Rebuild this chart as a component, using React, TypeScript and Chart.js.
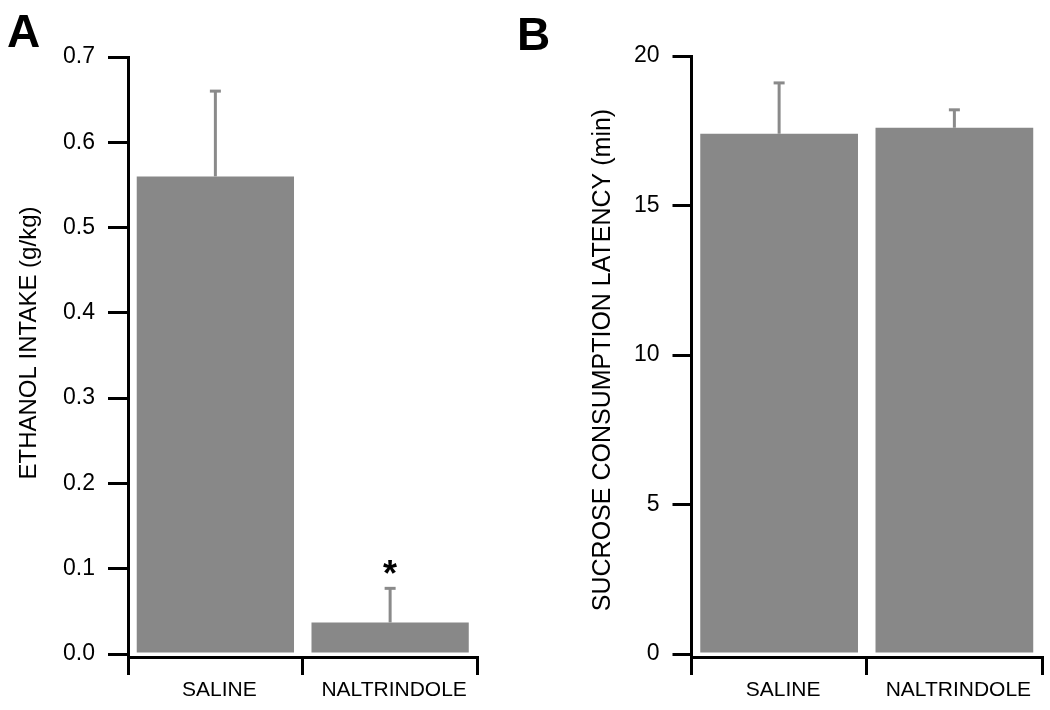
import React, { useEffect, useRef } from "react";
import { Chart, registerables } from "chart.js";

Chart.register(...registerables);

// ---- data ----
const categories = ["SALINE", "NALTRINDOLE"];

const ethanolMeans = [0.56, 0.037];
const ethanolSem = [0.1, 0.04];
const ethanolMarks = ["", "*"];
const ethanolTicks = [0, 0.1, 0.2, 0.3, 0.4, 0.5, 0.6, 0.7];

const latencyMeans = [17.4, 17.6];
const latencySem = [1.7, 0.6];
const latencyMarks = ["", ""];
const latencyTicks = [0, 5, 10, 15, 20];

const FONT = "'Liberation Sans', Arial, Helvetica, sans-serif";
const BAR_COLOR = "#888888";
const ERR_COLOR = "#8a8a8a";

type PanelCfg = {
  canvasLeft: number;
  canvasWidth: number;
  chartLeft: number;
  chartRight: number;
  chartTop: number;
  axisBottom: number;
  yMin: number;
  yMax: number;
  ticks: number[];
  decimals: number;
  tickLength: number;
  title: string;
  titleSize: number;
  titleX: number;
  titleY: number;
  letter: string;
  letterX: number;
  letterY: number;
  means: number[];
  sem: number[];
  marks: string[];
};

const errorBarPlugin = {
  id: "errorBars",
  afterDatasetsDraw(chart: any, _args: any, opts: any) {
    const meta = chart.getDatasetMeta(0);
    const y = chart.scales.y;
    const ctx = chart.ctx as CanvasRenderingContext2D;
    ctx.save();
    ctx.strokeStyle = ERR_COLOR;
    ctx.lineWidth = 3;
    ctx.lineCap = "butt";
    meta.data.forEach((bar: any, i: number) => {
      const v = opts.means[i];
      const e = opts.sem[i];
      const yBase = y.getPixelForValue(v);
      const yTop = y.getPixelForValue(v + e);
      ctx.beginPath();
      ctx.moveTo(bar.x, yBase);
      ctx.lineTo(bar.x, yTop);
      ctx.stroke();
      ctx.beginPath();
      ctx.moveTo(bar.x - 5.5, yTop);
      ctx.lineTo(bar.x + 5.5, yTop);
      ctx.stroke();
      const mark = opts.marks[i];
      if (mark) {
        ctx.fillStyle = "#000";
        ctx.font = `bold 36px ${FONT}`;
        ctx.textAlign = "center";
        ctx.textBaseline = "alphabetic";
        ctx.fillText(mark, bar.x, yTop - 2);
      }
    });
    ctx.restore();
  },
};

const textPlugin = {
  id: "panelText",
  afterDraw(chart: any, _args: any, opts: any) {
    const ctx = chart.ctx as CanvasRenderingContext2D;
    ctx.save();
    ctx.fillStyle = "#000";
    // panel letter
    ctx.font = `bold 46px ${FONT}`;
    ctx.textAlign = "left";
    ctx.textBaseline = "alphabetic";
    ctx.fillText(opts.letter, opts.letterX, opts.letterY);
    // y title
    ctx.translate(opts.titleX, opts.titleY);
    ctx.rotate(-Math.PI / 2);
    ctx.font = `${opts.titleSize}px ${FONT}`;
    ctx.textAlign = "center";
    ctx.textBaseline = "middle";
    ctx.fillText(opts.title, 0, 0);
    ctx.restore();
  },
};

function Panel({ cfg }: { cfg: PanelCfg }) {
  const ref = useRef<HTMLCanvasElement | null>(null);
  useEffect(() => {
    if (!ref.current) return;
    const H = 710;
    const chart = new Chart(ref.current, {
      type: "bar",
      data: {
        labels: categories,
        datasets: [
          {
            data: cfg.means,
            backgroundColor: BAR_COLOR,
            borderWidth: 0,
            barPercentage: 0.9,
            categoryPercentage: 1,
          },
        ],
      },
      plugins: [errorBarPlugin, textPlugin],
      options: {
        animation: false,
        responsive: false,
        devicePixelRatio: 1,
        layout: {
          padding: {
            left: 0,
            right: cfg.canvasWidth - cfg.chartRight,
            top: cfg.chartTop,
            bottom: 0,
          },
        },
        plugins: {
          legend: { display: false },
          tooltip: { enabled: false },
          title: { display: false },
          errorBars: { means: cfg.means, sem: cfg.sem, marks: cfg.marks },
          panelText: {
            letter: cfg.letter,
            letterX: cfg.letterX,
            letterY: cfg.letterY,
            title: cfg.title,
            titleSize: cfg.titleSize,
            titleX: cfg.titleX,
            titleY: cfg.titleY,
          },
        } as any,
        scales: {
          x: {
            afterFit: (axis: any) => {
              axis.height = H - cfg.axisBottom;
            },
            grid: {
              drawOnChartArea: false,
              drawTicks: true,
              offset: true,
              tickLength: 18,
              lineWidth: 3,
              color: "#000",
            },
            border: { display: true, width: 3, color: "#000" },
            ticks: {
              padding: 3,
              color: "#000",
              font: { family: FONT, size: 21 },
              labelOffset: 4,
              maxRotation: 0,
              autoSkip: false,
            },
          },
          y: {
            min: cfg.yMin,
            max: cfg.yMax,
            afterBuildTicks: (axis: any) => {
              axis.ticks = cfg.ticks.map((v) => ({ value: v }));
            },
            afterFit: (axis: any) => {
              axis.width = cfg.chartLeft;
            },
            grid: {
              drawOnChartArea: false,
              drawTicks: true,
              tickLength: cfg.tickLength,
              lineWidth: 3,
              color: "#000",
            },
            border: { display: true, width: 3, color: "#000" },
            ticks: {
              padding: 13,
              color: "#000",
              font: { family: FONT, size: 23 },
              callback: (v: any) => Number(v).toFixed(cfg.decimals),
            },
          },
        },
      } as any,
    });
    return () => chart.destroy();
  }, [cfg]);
  return (
    <canvas
      ref={ref}
      width={cfg.canvasWidth}
      height={710}
      style={{
        position: "absolute",
        left: cfg.canvasLeft,
        top: 0,
        width: cfg.canvasWidth,
        height: 710,
      }}
    />
  );
}

const panelA: PanelCfg = {
  canvasLeft: 0,
  canvasWidth: 505,
  chartLeft: 128,
  chartRight: 477.5,
  chartTop: 57,
  axisBottom: 657,
  yMin: -0.0035,
  yMax: 0.7,
  ticks: ethanolTicks,
  decimals: 1,
  tickLength: 20,
  title: "ETHANOL INTAKE (g/kg)",
  titleSize: 24,
  titleX: 29,
  titleY: 343,
  letter: "A",
  letterX: 7,
  letterY: 47,
  means: ethanolMeans,
  sem: ethanolSem,
  marks: ethanolMarks,
};

const panelB: PanelCfg = {
  canvasLeft: 505,
  canvasWidth: 545,
  chartLeft: 186.5,
  chartRight: 537,
  chartTop: 56,
  axisBottom: 657,
  yMin: -0.1,
  yMax: 20,
  ticks: latencyTicks,
  decimals: 0,
  tickLength: 19,
  title: "SUCROSE CONSUMPTION LATENCY (min)",
  titleSize: 25,
  titleX: 98,
  titleY: 360,
  letter: "B",
  letterX: 12,
  letterY: 50,
  means: latencyMeans,
  sem: latencySem,
  marks: latencyMarks,
};

export default function App() {
  return (
    <div
      style={{
        position: "absolute",
        left: 0,
        top: 0,
        width: 1050,
        height: 710,
        background: "#fff",
        overflow: "hidden",
      }}
    >
      <Panel cfg={panelA} />
      <Panel cfg={panelB} />
    </div>
  );
}
